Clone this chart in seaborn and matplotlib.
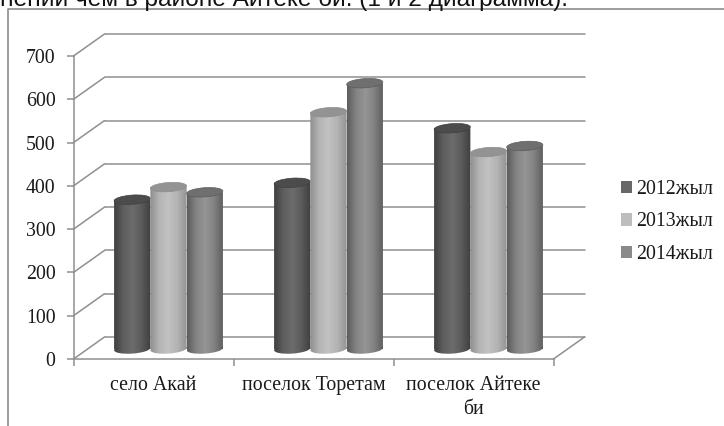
import numpy as np
import pandas as pd
import matplotlib
matplotlib.use("Agg")
import matplotlib.pyplot as plt
import seaborn as sns
from matplotlib.colors import LinearSegmentedColormap
from matplotlib.patches import Ellipse
from matplotlib.path import Path
from matplotlib.transforms import Affine2D, IdentityTransform

# Chart values
settlements = ["село Акай", "поселок Торетам", "поселок Айтеке\nби"]
years = ["2012жыл", "2013жыл", "2014жыл"]
values_2012 = [345, 384, 510]
values_2013 = [374, 547, 455]
values_2014 = [362, 614, 469]
y_ticks = [0, 100, 200, 300, 400, 500, 600, 700]
caption = "нений чем в районе Айтеке би. (1 и 2 диаграмма)."

# Styling per series
legend_colors = ["#686868", "#bdbdbd", "#8a8a8a"]
body_ramps = [
    ["#3f3f3f", "#5e5e5e", "#6c6c6c", "#5a5a5a", "#3e3e3e"],
    ["#8e8e8e", "#b4b4b4", "#c2c2c2", "#b2b2b2", "#939393"],
    ["#5c5c5c", "#848484", "#959595", "#808080", "#5a5a5a"],
]
top_colors = ["#4c4c4c", "#939393", "#6f6f6f"]
axis_gray = "#8f8f8f"
FONT = "Liberation Serif"
LABEL_SIZE = 14.3

W, H = 724, 426
sns.set_theme(style="white")
plt.rcParams["font.family"] = [FONT, "DejaVu Sans"]
fig = plt.figure(figsize=(W / 100, H / 100), dpi=100, facecolor="white")


def px_axes(left, right, top, bottom):
    return fig.add_axes([left / W, 1 - bottom / H, (right - left) / W, (bottom - top) / H])


# Front plane of the chart box: holds the value axis and category ticks
wall = px_axes(73.5, 553.5, 56, 359)
wall.set_xlim(-0.5, 2.5)
wall.set_ylim(0, 700)
wall.patch.set_alpha(0)
DEPTH_X = 31 / 160
DEPTH_Y = 22 * 700 / 303

for v in y_ticks:
    wall.plot([-0.5, -0.5 + DEPTH_X], [v, v + DEPTH_Y], color=axis_gray, lw=1.1, clip_on=False, zorder=1)
    wall.plot([-0.5 + DEPTH_X, 2.5 + DEPTH_X], [v + DEPTH_Y, v + DEPTH_Y], color=axis_gray, lw=1.1,
              clip_on=False, zorder=1)
wall.plot([2.5, 2.5 + DEPTH_X], [0, DEPTH_Y], color=axis_gray, lw=1.1, clip_on=False, zorder=1)

for side in ("top", "right"):
    wall.spines[side].set_visible(False)
for side in ("left", "bottom"):
    wall.spines[side].set_color(axis_gray)
    wall.spines[side].set_linewidth(1.1)
wall.set_yticks(y_ticks)
wall.set_xticks([-0.5, 0.5, 1.5, 2.5])
wall.set_xticklabels([])
wall.set_xticks([0, 1, 2], labels=settlements, minor=True)
wall.tick_params(axis="y", length=5, width=1.1, color=axis_gray, labelsize=LABEL_SIZE, pad=8,
                 labelcolor="#1a1a1a", left=True)
wall.tick_params(axis="x", which="major", length=5, width=1.1, color=axis_gray, bottom=True)
wall.tick_params(axis="x", which="minor", length=0, labelsize=LABEL_SIZE, pad=12, labelcolor="#1a1a1a")
for lab in wall.get_xticklabels(minor=True):
    lab.set_linespacing(1.4)

# Columns stand mid-way into the box, so their axes are shifted back and up;
# the lower limit leaves room for the rounded column bases
BASE_ROOM = 30
ax = px_axes(88.5, 568.5, 46, 349 + BASE_ROOM * 303 / 700)
ax.patch.set_alpha(0)
df = pd.DataFrame({
    "settlement": np.repeat(settlements, len(years)),
    "year": years * len(settlements),
    "value": [s[i] for i in range(3) for s in (values_2012, values_2013, values_2014)],
})
sns.barplot(data=df, x="settlement", y="value", hue="year", order=settlements, hue_order=years,
            palette=legend_colors, saturation=1, width=0.68, gap=0, dodge=True, legend=True,
            errorbar=None, ax=ax, linewidth=0)
ax.set_xlim(-0.5, 2.5)
ax.set_ylim(-BASE_ROOM, 700)
ax.axis("off")

handles, labels = ax.get_legend_handles_labels()
ax.get_legend().remove()
fig.legend(handles, labels, loc="center left", bbox_to_anchor=(621 / W, 1 - 222 / H), frameon=False,
           fontsize=LABEL_SIZE, labelspacing=0.7, handlelength=0.56, handleheight=0.56, handletextpad=0.2,
           labelcolor="#1a1a1a", borderpad=0, borderaxespad=0)

# Cylinder shading over each seaborn bar
TILT = 4
SEMI_H = 4.6
for s, container in enumerate(ax.containers):
    cmap = LinearSegmentedColormap.from_list(f"ramp{s}", body_ramps[s])
    for bar in container:
        x0, x1 = bar.get_x(), bar.get_x() + bar.get_width()
        h = bar.get_height()
        (px0, py0), (px1, py1) = ax.transData.transform([(x0, 0), (x1, h)])
        w = px1 - px0
        cx = (px0 + px1) / 2
        ellipse_path = Path.unit_circle().transformed(
            Affine2D().scale(w / 2, SEMI_H).rotate_deg(TILT).translate(cx, py0))
        rect_path = Path.unit_rectangle().transformed(
            Affine2D().scale(w, py1 - py0).translate(px0, py0))
        outline = Path.make_compound_path(rect_path, ellipse_path)
        bar.set_visible(False)
        img = ax.imshow(np.linspace(0, 1, 256)[None, :], extent=(x0, x1, -BASE_ROOM, h), cmap=cmap,
                        vmin=0, vmax=1, aspect="auto", zorder=3 + s, interpolation="bilinear")
        img.set_clip_path(outline, IdentityTransform())
        top = Ellipse((cx, py1), w, 2 * SEMI_H, angle=TILT, transform=IdentityTransform(),
                      facecolor=top_colors[s], edgecolor=body_ramps[s][0], linewidth=0.5,
                      zorder=3.5 + s, clip_on=False)
        ax.add_patch(top)
ax.set_xlim(-0.5, 2.5)
ax.set_ylim(-BASE_ROOM, 700)

# Surrounding text frame and the sentence cut off above it
fig.add_artist(plt.Line2D([7.5 / W, 7.5 / W, 1], [0, 1 - 9 / H, 1 - 9 / H], color="#8c8c8c", lw=1.2))
fig.text(-0.5 / W, 1 - 6 / H, caption, family="Liberation Sans", fontsize=17.6, color="#111111",
         ha="left", va="baseline")

fig.savefig("out.png", dpi=100)
